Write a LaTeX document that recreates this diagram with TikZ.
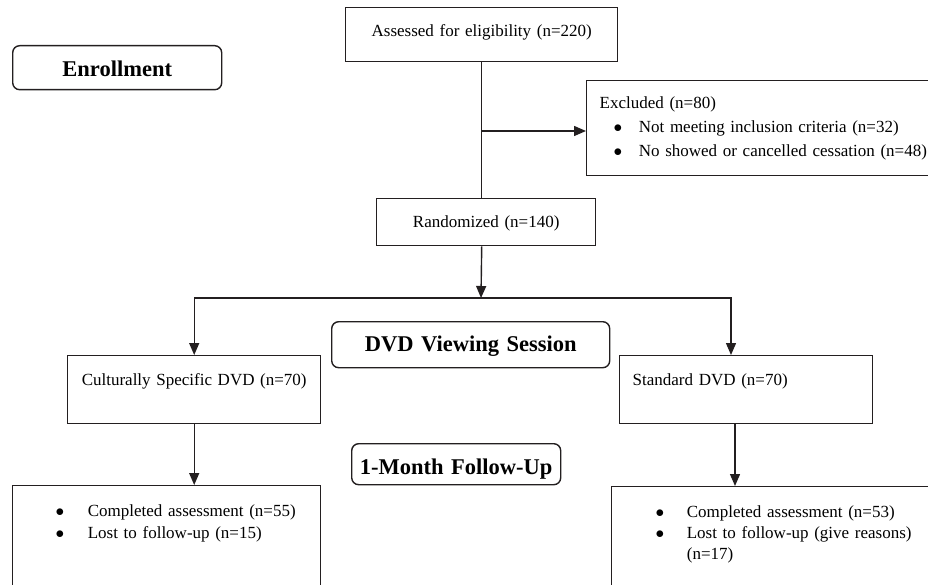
\documentclass[tikz,border=0pt]{standalone}
\usepackage{fontspec}
\setmainfont{Liberation Serif}
\usetikzlibrary{arrows.meta}

\definecolor{flowline}{HTML}{231F20}

% list bullet, a bit larger than the text one
\newcommand{\flowbullet}{$\bullet$}

\begin{document}
\begin{tikzpicture}[
  x=1pt,
  y=-1pt,
  line join=miter,
  font=\fontsize{17}{22}\selectfont,
  box/.style={draw=flowline,line width=1.4pt,inner sep=0pt,anchor=north west,align=center},
  leftbox/.style={box,inner xsep=13pt,align=left},
  stagebox/.style={box,rounded corners=7pt,font=\fontsize{22.5}{27}\selectfont\bfseries},
  flow/.style={draw=flowline,line width=1.4pt},
  flowarrow/.style={flow,-{Triangle[length=12pt,width=10pt]}}
]
  % Keep the frame of the original figure; the lower boxes run past its edge.
  \useasboundingbox (0,0) rectangle (928,585);

  % Stage headings on the left/middle.
  \node[stagebox,text width=209pt,text height=31pt,text depth=13pt] (enroll) at (12,45) {Enrollment};
  \node[stagebox,text width=278pt,text height=30pt,text depth=16pt] (viewing) at (331,321) {DVD Viewing Session};
  \node[stagebox,text width=209pt,text height=31pt,text depth=10pt] (followup) at (351,443) {1-Month Follow-Up};

  % Enrollment boxes.
  \node[box,text width=272pt,text height=29pt,text depth=25pt] (assessed) at (345,7) {Assessed for eligibility (n=220)};
  \node[box,text width=219pt,text height=29pt,text depth=18pt] (rand) at (376,198) {Randomized (n=140)};
  \node[box,text width=349pt,text height=28pt,text depth=67pt,align=left] (excl) at (586,80)
    {\fontsize{17}{24}\selectfont
     \begin{tabular}[t]{@{\hspace{13pt}}c@{\hspace{16.5pt}}l@{}}
       \multicolumn{2}{@{\hspace{13pt}}l@{}}{Excluded (n=80)}\\
       \hspace{14pt}\flowbullet & Not meeting inclusion criteria (n=32)\\
       \hspace{14pt}\flowbullet & No showed or cancelled cessation (n=48)
     \end{tabular}};

  % The two study arms.
  \node[box,text width=253pt,text height=30pt,text depth=38pt] (cult) at (67,355) {Culturally Specific DVD (n=70)};
  \node[leftbox,text width=227pt,text height=30pt,text depth=38pt] (stand) at (619,355) {Standard DVD (n=70)};

  % Follow-up boxes, cut off by the lower edge.
  \node[box,text width=308pt,text height=30.5pt,text depth=90pt,align=left] (followL) at (12,485)
    {\begin{tabular}[t]{@{\hspace{43pt}}c@{\hspace{23.5pt}}l@{}}
       \flowbullet & Completed assessment (n=55)\\
       \flowbullet & Lost to follow-up (n=15)
     \end{tabular}};
  \node[box,text width=324pt,text height=30.5pt,text depth=90pt,align=left] (followR) at (611,486)
    {\fontsize{17}{21}\selectfont
     \begin{tabular}[t]{@{\hspace{44pt}}c@{\hspace{22.5pt}}l@{}}
       \flowbullet & Completed assessment (n=53)\\
       \flowbullet & Lost to follow-up (give reasons)\\
                   & (n=17)
     \end{tabular}};

  % Tap points on the main trunk and the split line.
  \coordinate (exclTap) at (481,131);
  \coordinate (split) at (481,298);
  \coordinate (standIn) at (731,355);
  \coordinate (standDrop) at (735,0);

  % Connectors.
  \draw[flow] (assessed.south) -- (assessed.south |- rand.north);
  \draw[flowarrow] (exclTap) -- (exclTap -| excl.west);
  \draw[flowarrow] (assessed.south |- rand.south) -- (split);
  \draw[flowarrow] (split) -| (cult.north);
  \draw[flowarrow] (split) -| (standIn);
  \draw[flowarrow] (cult.south) -- (cult.south |- followL.north);
  \draw[flowarrow] (standDrop |- stand.south) -- (standDrop |- followR.north);
\end{tikzpicture}
\end{document}
